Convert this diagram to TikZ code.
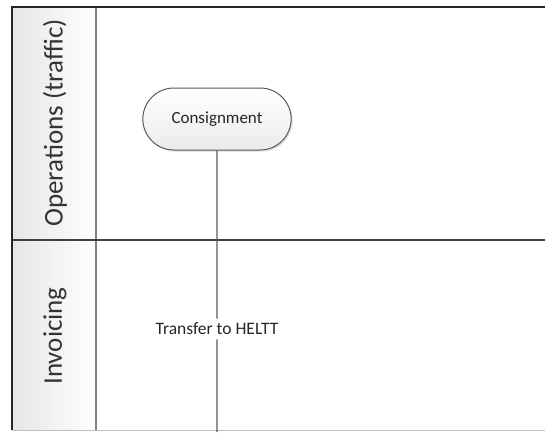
\documentclass[tikz,border=0pt]{standalone}
\usepackage{fontspec}
\setmainfont{Carlito}
\usetikzlibrary{shapes.misc, shadows}

\begin{document}
\begin{tikzpicture}[x=1pt, y=-1pt,
  lane/.style={rotate=90, text=black!80, font=\fontsize{27}{30}\selectfont},
  terminal/.style={draw=black!65, line width=1pt, rounded rectangle, minimum width=155pt, minimum height=62pt,
    top color=white, bottom color=black!8, text=black!85, font=\fontsize{17}{20}\selectfont,
    drop shadow={opacity=0.25, shadow xshift=1.5pt, shadow yshift=-1.5pt}},
  flowlabel/.style={inner xsep=1pt, inner ysep=4pt, text=black!85, font=\fontsize{17.5}{20}\selectfont}]
\useasboundingbox (0,0) rectangle (545,432);
% lane headers and frame
\shade [left color=black!10, right color=white] (12,7) rectangle (96,430);
\draw [black!25, line width=1pt] (12,430) -- (545,430);
\draw [black!50, line width=1.5pt] (96,7) -- (96,430);
\draw [black!75, line width=1.5pt] (12,240) -- (545,240);
\draw [black!85, line width=2pt] (545,7) -- (12,7) -- (12,430);

\node [lane] (ops) at (55,123) {Operations (traffic)};
\node [lane] (inv) at (55,336) {Invoicing};

\node [terminal] (cons) at (217,119) {Consignment};
\node [flowlabel] (heltt) at (217,329) {Transfer to HELTT};
\coordinate (end) at (217,432);

\draw [black!65, line width=1.2pt] (cons) -- (heltt) -- (end);
\end{tikzpicture}
\end{document}
